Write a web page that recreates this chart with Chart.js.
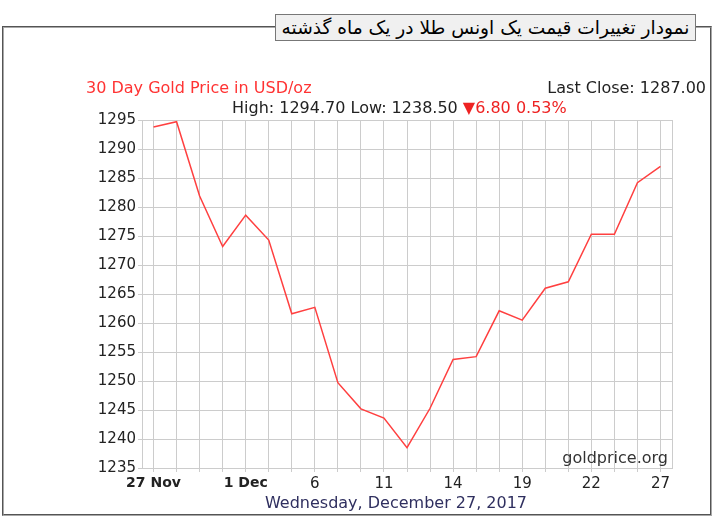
<!DOCTYPE html>
<html>
<head>
<meta charset="utf-8">
<script src="https://cdn.jsdelivr.net/npm/chart.js@4.4.1/dist/chart.umd.min.js"></script>
<style>
  body { margin: 0; background: #fff; font-family: "DejaVu Sans", sans-serif; }
  #wrap { position: relative; width: 713px; height: 518px; overflow: hidden; }
  #frame { position: absolute; left: 2px; top: 26px; width: 706px; height: 486px; border: 2px groove #a8a8a8; }
  #legend { position: absolute; left: 275px; top: 14px; width: 419px; height: 25px; border: 1px solid #777; background: #f0f0f0;
            font-size: 18.6px; line-height: 25px; text-align: center; direction: rtl; color: #000; }
  canvas { position: absolute; left: 0; top: 0; }
  .txt { position: absolute; white-space: nowrap; font-size: 16px; line-height: 18px; }
  #h1 { left: 86px; top: 79px; color: #ff3333; }
  #h2 { right: 7px; top: 79px; color: #222; }
  #h3 { left: 232px; top: 99px; color: #222; }
  #h3 span { color: #ee2222; }
  #date { left: 0; width: 792px; text-align: center; top: 494px; color: #2f2f5f; }
</style>
</head>
<body>
<div id="wrap">
  <div id="frame"></div>
  <canvas id="chart" width="713" height="518"></canvas>
  <div id="legend">نمودار تغییرات قیمت یک اونس طلا در یک ماه گذشته</div>
  <div class="txt" id="h1">30 Day Gold Price in USD/oz</div>
  <div class="txt" id="h2">Last Close: 1287.00</div>
  <div class="txt" id="h3">High: 1294.70 Low: 1238.50 <span>▼6.80 0.53%</span></div>
  <div class="txt" id="date">Wednesday, December 27, 2017</div>
</div>
<script>
const dates = ['27 Nov','28 Nov','29 Nov','30 Nov','1 Dec','4 Dec','5 Dec','6 Dec','7 Dec','8 Dec','11 Dec','12 Dec',
               '13 Dec','14 Dec','15 Dec','18 Dec','19 Dec','20 Dec','21 Dec','22 Dec','25 Dec','26 Dec','27 Dec'];
const tickLabels = ['27 Nov','','','','1 Dec','','','6','','','11','','','14','','','19','','','22','','','27'];
const boldTicks = [0, 4];
const prices = [1293.8, 1294.7, 1281.9, 1273.2, 1278.6, 1274.3, 1261.6, 1262.7, 1249.7, 1245.2, 1243.6, 1238.5,
                1245.3, 1253.7, 1254.2, 1262.1, 1260.5, 1266.0, 1267.1, 1275.3, 1275.3, 1284.2, 1287.0];
const yMin = 1235, yMax = 1295, yStep = 5;

// right border of the plot + watermark
const extras = {
    id: 'extras',
    afterDraw(chart) {
        const a = chart.chartArea, c = chart.ctx;
        c.save();
        c.strokeStyle = '#cccccc';
        c.lineWidth = 1;
        c.beginPath();
        c.moveTo(Math.round(a.right) + 0.5, a.top);
        c.lineTo(Math.round(a.right) + 0.5, a.bottom);
        c.stroke();
        c.fillStyle = '#333';
        c.font = '16px "DejaVu Sans"';
        c.textAlign = 'right';
        c.textBaseline = 'middle';
        c.fillText('goldprice.org', a.right - 4, a.bottom - 9);
        c.restore();
    }
};

new Chart(document.getElementById('chart'), {
    type: 'line',
    data: {
        labels: dates,
        datasets: [{
            data: prices,
            borderColor: '#ff4040',
            borderWidth: 1.5,
            pointRadius: 0,
            tension: 0,
            fill: false
        }]
    },
    options: {
        responsive: false,
        animation: false,
        devicePixelRatio: 1,
        layout: { padding: { top: 120, right: 41, left: 0, bottom: 0 } },
        plugins: { legend: { display: false }, tooltip: { enabled: false } },
        scales: {
            x: {
                offset: true,
                afterFit: function(scale) { scale.height = 50; },
                grid: { offset: false, color: '#cccccc', tickLength: 4, drawTicks: true },
                border: { color: '#cccccc' },
                ticks: {
                    autoSkip: false, maxRotation: 0, padding: 3, color: '#222',
                    font: function(ctx) {
                        const b = boldTicks.includes(ctx.index);
                        return { family: 'DejaVu Sans', size: b ? 14 : 15, weight: b ? 'bold' : 'normal' };
                    },
                    callback: function(v, i) { return tickLabels[i]; }
                }
            },
            y: {
                min: yMin, max: yMax,
                afterFit: function(scale) { scale.width = 142; },
                grid: { color: '#cccccc', tickLength: 4 },
                border: { color: '#cccccc' },
                ticks: {
                    stepSize: yStep, padding: 2, color: '#222', font: { family: 'DejaVu Sans', size: 15 },
                    callback: function(v) { return String(v); }
                }
            }
        }
    },
    plugins: [extras]
});
</script>
</body>
</html>
